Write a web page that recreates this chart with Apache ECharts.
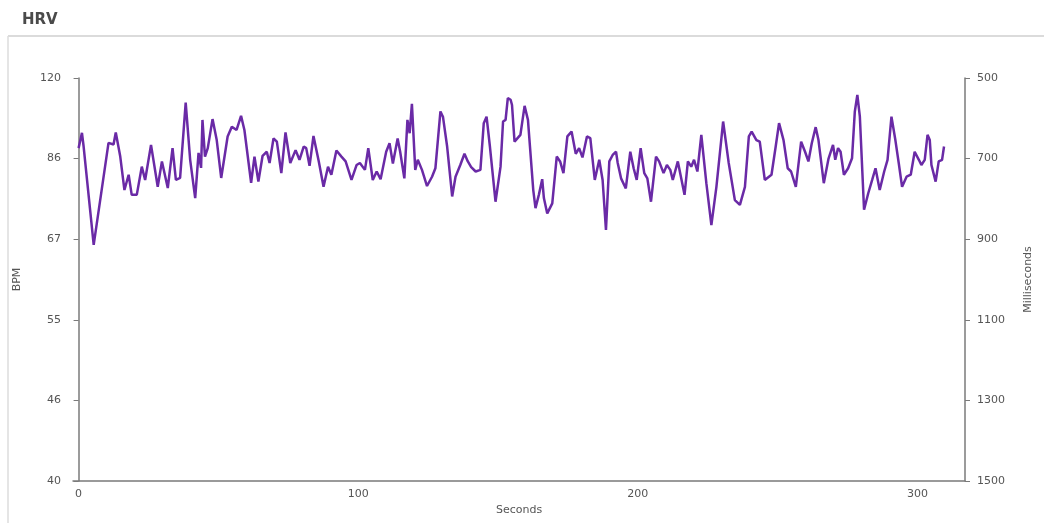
<!DOCTYPE html>
<html>
<head>
<meta charset="utf-8">
<script src="https://cdn.jsdelivr.net/npm/echarts@6/dist/echarts.min.js"></script>
<style>
body {
	margin: 0;
	background-color: #fff;
}

#main {
	width: 1044px;
	height: 523px;
}
</style>
</head>
<body>
<div id="main"></div>

<script>

// seconds since start, and RR interval (ms) at that time
var seconds = [
    0, 1.2, 1.8, 5.4, 10.7, 12.5, 13.3, 14.9, 16.4, 17.9, 19.0, 20.8, 22.6, 23.8, 25.9, 28.3, 29.8, 31.9, 33.6, 34.8,
    36.3, 38.3, 39.9, 41.7, 42.9, 43.8, 44.3, 45.2, 46.2, 47.9, 49.4, 51.0, 53.3, 54.8, 56.5, 58.1, 59.3, 61.7, 62.9, 64.3,
    65.8, 67.3, 68.3, 69.7, 70.9, 72.5, 74.0, 75.7, 77.6, 79.0, 80.5, 81.4, 82.6, 84.0, 85.9, 87.6, 89.2, 90.4, 92.2, 94.0,
    95.5, 97.6, 99.4, 100.6, 102.4, 103.6, 105.2, 106.6, 108.0, 110.0, 111.2, 112.4, 114.1, 115.0, 116.5, 117.6, 118.4, 119.2, 120.4, 121.3,
    122.8, 124.6, 126.4, 127.6, 129.4, 130.3, 131.8, 133.6, 134.8, 136.5, 138.0, 139.2, 140.4, 142.0, 143.7, 144.9, 145.9, 147.1, 149.1, 150.9,
    151.8, 152.7, 153.5, 154.5, 155.0, 155.9, 158.0, 159.5, 160.7, 162.6, 163.4, 164.6, 165.8, 166.4, 167.6, 169.4, 171.0, 172.2, 173.4, 174.8,
    176.3, 177.8, 179.0, 180.2, 181.8, 183.0, 184.6, 186.2, 187.4, 188.6, 189.8, 191.0, 192.2, 192.8, 194.0, 195.7, 197.3, 198.5, 199.6, 201.0,
    202.3, 203.4, 204.7, 206.5, 207.6, 209.2, 210.4, 211.6, 212.5, 214.3, 216.7, 217.9, 219.1, 220.1, 221.3, 222.7, 224.5, 226.3, 228.1, 230.5,
    232.5, 234.7, 236.5, 238.3, 239.7, 240.7, 242.4, 243.6, 245.4, 247.8, 249.3, 250.5, 252.1, 253.6, 254.8, 256.5, 258.4, 259.8, 261.0, 262.2,
    263.6, 264.6, 266.5, 268.2, 269.8, 270.6, 271.6, 272.5, 273.7, 275.2, 276.6, 277.6, 278.5, 279.4, 280.9, 282.4, 283.8, 285.0, 286.5, 288.1,
    289.3, 290.7, 292.1, 293.3, 294.5, 296.1, 297.6, 299.0, 300.5, 301.4, 302.6, 303.6, 304.4, 305.0, 306.5, 307.6, 308.8, 309.5
];

var rrMs = [
    674, 636, 670, 914, 661, 665, 635, 695, 778, 740, 790, 790, 720, 753, 666, 770, 707, 773, 674, 753,
    748, 561, 703, 798, 686, 723, 604, 695, 674, 602, 654, 748, 645, 621, 629, 594, 629, 760, 695, 757,
    693, 683, 711, 650, 658, 736, 635, 711, 679, 703, 670, 674, 718, 644, 707, 770, 720, 740, 680, 695,
    707, 753, 716, 711, 728, 674, 753, 732, 751, 683, 662, 712, 650, 683, 749, 604, 637, 564, 728, 703,
    728, 768, 745, 724, 583, 596, 670, 794, 745, 716, 688, 707, 721, 732, 728, 612, 596, 670, 807, 720,
    608, 604, 550, 554, 567, 658, 641, 569, 604, 778, 823, 790, 751, 798, 836, 811, 695, 707, 736, 645,
    633, 688, 674, 697, 645, 649, 753, 703, 753, 877, 707, 691, 683, 711, 749, 774, 683, 724, 753, 674,
    736, 749, 807, 695, 707, 736, 716, 728, 753, 707, 790, 707, 720, 703, 732, 641, 761, 865, 770, 608,
    711, 803, 815, 770, 645, 633, 654, 658, 753, 740, 670, 612, 654, 724, 732, 770, 658, 683, 707, 662,
    622, 654, 761, 700, 666, 703, 674, 683, 740, 724, 699, 583, 542, 596, 827, 786, 753, 724, 778, 732,
    703, 596, 654, 711, 770, 745, 740, 683, 703, 716, 703, 641, 654, 716, 757, 707, 703, 670
];

var xTicks = [0, 100, 200, 300];

var points = seconds.map(function (t, i) {
    return [t, rrMs[i]];
});

var chart = echarts.init(document.getElementById('main'));

var labelStyle = {
    color: '#555',
    fontSize: 11,
    fontFamily: 'DejaVu Sans'
};

var axisLine = {
    show: true,
    lineStyle: { color: '#7a7a7a', width: 1.5 }
};

option = {
    animation: false,
    backgroundColor: '#fff',
    title: {
        text: 'HRV',
        left: 17,
        top: 8,
        textStyle: {
            color: '#4a4a4a',
            fontSize: 15,
            fontWeight: 600,
            fontFamily: 'DejaVu Sans'
        }
    },
    graphic: [
        {
            type: 'line',
            shape: { x1: 8, y1: 36, x2: 1044, y2: 36 },
            style: { stroke: '#cfcfcf', lineWidth: 1.5 }
        },
        {
            type: 'line',
            shape: { x1: 8, y1: 36, x2: 8, y2: 523 },
            style: { stroke: '#dcdcdc', lineWidth: 1.5 }
        }
    ],
    grid: {
        left: 73,
        right: 79,
        top: 78,
        bottom: 42
    },
    xAxis: {
        type: 'value',
        min: -2,
        max: 317,
        name: 'Seconds',
        nameLocation: 'middle',
        nameGap: 24,
        nameTextStyle: labelStyle,
        axisLine: axisLine,
        axisTick: { show: false },
        splitLine: { show: false },
        axisLabel: Object.assign({ customValues: xTicks, margin: 8 }, labelStyle)
    },
    yAxis: [
        {
            type: 'value',
            position: 'left',
            inverse: true,
            min: 500,
            max: 1500,
            interval: 200,
            name: 'BPM',
            nameLocation: 'middle',
            nameGap: 50,
            nameTextStyle: labelStyle,
            axisLine: axisLine,
            axisTick: { show: true, length: 5, lineStyle: { color: '#7a7a7a' } },
            splitLine: { show: false },
            axisLabel: Object.assign({
                margin: 12,
                formatter: function (v) {
                    return String(Math.round(60000 / v));
                }
            }, labelStyle)
        },
        {
            type: 'value',
            position: 'right',
            inverse: true,
            min: 500,
            max: 1500,
            interval: 200,
            name: 'Milliseconds',
            nameLocation: 'middle',
            nameGap: 58,
            nameTextStyle: labelStyle,
            axisLine: axisLine,
            axisTick: { show: true, length: 5, lineStyle: { color: '#7a7a7a' } },
            splitLine: { show: false },
            axisLabel: Object.assign({
                margin: 12,
                formatter: function (v) {
                    return String(v);
                }
            }, labelStyle)
        }
    ],
    series: [
        {
            name: 'RR',
            type: 'line',
            yAxisIndex: 1,
            data: points,
            showSymbol: false,
            lineStyle: { color: '#6a2aa6', width: 2.5 },
            itemStyle: { color: '#6a2aa6' }
        }
    ]
};

chart.setOption(option);

</script>
</body>
</html>
